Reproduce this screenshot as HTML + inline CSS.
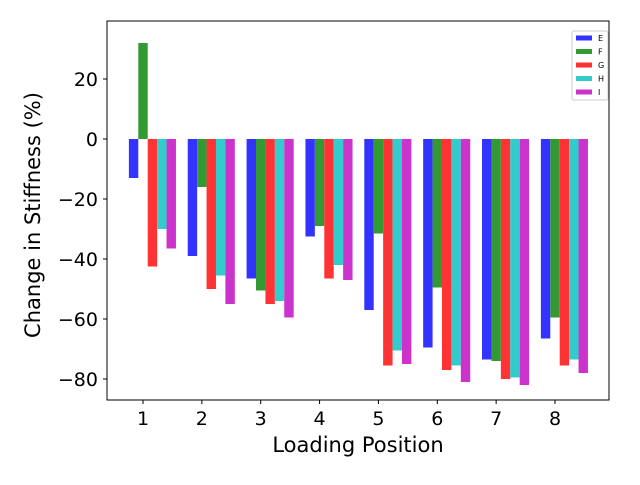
<!DOCTYPE html>
<html><head><meta charset="utf-8"><style>
body{margin:0;background:#fff;font-family:"Liberation Sans","DejaVu Sans",sans-serif}
</style></head><body>
<svg id="chart" width="640" height="480" xmlns="http://www.w3.org/2000/svg" font-family="DejaVu Sans, Liberation Sans, sans-serif">
<g id="bars"></g>
<rect x="107" y="21" width="502" height="379" fill="none" stroke="#000" stroke-width="1"/>
<g id="axes"></g>
<text x="358" y="452" font-size="21" text-anchor="middle">Loading Position</text>
<text transform="translate(40,215) rotate(-90)" font-size="21" text-anchor="middle">Change in Stiffness (%)</text>
<g id="legend"></g>
</svg>
<script>
const categories = ["1","2","3","4","5","6","7","8"];
const seriesNames = ["E","F","G","H","I"];
const seriesColors = ["#3333ff","#339933","#ff3333","#33cccc","#cc33cc"];
const valuesE = [-13,-39,-46.5,-32.5,-57,-69.5,-73.5,-66.5];
const valuesF = [32,-16,-50.5,-29,-31.5,-49.5,-74,-59.5];
const valuesG = [-42.5,-50,-55,-46.5,-75.5,-77,-80,-75.5];
const valuesH = [-30,-45.5,-54,-42,-70.5,-75.5,-79.5,-73.5];
const valuesI = [-36.5,-55,-59.5,-47,-75,-81,-82,-78];
const yTicks = [-80,-60,-40,-20,0,20];
const series = [valuesE,valuesF,valuesG,valuesH,valuesI];
const NS="http://www.w3.org/2000/svg";
function yS(v){return 139 - v*3;}
function xS(i){return 143 + i*58.857;}
const bw = 58.857*0.16;
const bars=document.getElementById('bars');
series.forEach((vals,s)=>{
  vals.forEach((v,i)=>{
    const r=document.createElementNS(NS,'rect');
    const x=xS(i)-1.5*bw+s*bw;
    r.setAttribute('x',x);r.setAttribute('width',bw);
    r.setAttribute('y',Math.min(yS(v),yS(0)));r.setAttribute('height',Math.abs(yS(v)-yS(0)));
    r.setAttribute('fill',seriesColors[s]);
    
    
    bars.appendChild(r);
  });
});
const axes=document.getElementById('axes');
yTicks.forEach(t=>{
  const y=yS(t);
  const l=document.createElementNS(NS,'line');
  l.setAttribute('x1',103);l.setAttribute('x2',107);l.setAttribute('y1',y);l.setAttribute('y2',y);l.setAttribute('stroke','#000');
  
  
  axes.appendChild(l);
  const tx=document.createElementNS(NS,'text');
  tx.setAttribute('x',98);tx.setAttribute('y',y+7);tx.setAttribute('font-size','19');tx.setAttribute('text-anchor','end');
  tx.textContent=(t<0?'\u2212'+(-t):t);
  
  
  axes.appendChild(tx);
});
categories.forEach((c,i)=>{
  const x=xS(i);
  const l=document.createElementNS(NS,'line');
  l.setAttribute('x1',x);l.setAttribute('x2',x);l.setAttribute('y1',400);l.setAttribute('y2',404);l.setAttribute('stroke','#000');
  
  
  axes.appendChild(l);
  const tx=document.createElementNS(NS,'text');
  tx.setAttribute('x',x);tx.setAttribute('y',425);tx.setAttribute('font-size','19');tx.setAttribute('text-anchor','middle');
  tx.textContent=c;
  
  
  axes.appendChild(tx);
});
const lg=document.getElementById('legend');
const box=document.createElementNS(NS,'rect');
box.setAttribute('x',572);box.setAttribute('y',31);box.setAttribute('width',36);box.setAttribute('height',69);
box.setAttribute('fill','#fff');box.setAttribute('stroke','#ccc');box.setAttribute('rx',2);


lg.appendChild(box);
seriesNames.forEach((n,s)=>{
  const y=38+s*13.5;
  const p=document.createElementNS(NS,'rect');
  p.setAttribute('x',576);p.setAttribute('y',y-2.5);p.setAttribute('width',16);p.setAttribute('height',5);p.setAttribute('fill',seriesColors[s]);
  
  
  lg.appendChild(p);
  const t=document.createElementNS(NS,'text');
  t.setAttribute('x',598);t.setAttribute('y',y+3);t.setAttribute('font-size','8');
  t.textContent=n;
  
  
  lg.appendChild(t);
});
</script>
</body></html>
